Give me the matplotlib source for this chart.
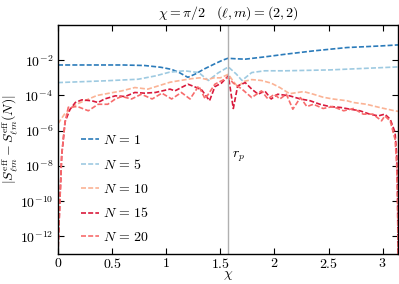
import numpy as np
import matplotlib
matplotlib.use("Agg")
import matplotlib.pyplot as plt

plt.rcParams['font.family'] = 'serif'
plt.rcParams['font.serif'] = ['cmr10', 'DejaVu Serif']
plt.rcParams['mathtext.fontset'] = 'cm'
plt.rcParams['axes.formatter.use_mathtext'] = True
plt.rcParams['font.size'] = 10

# curves: chi values and log10 of the difference
chi_1 = [0, 0.3, 0.6, 0.8, 0.95, 1.05, 1.12, 1.2, 1.27, 1.35, 1.45, 1.52, 1.57,
         1.65, 1.73, 1.91, 2.1, 2.36, 2.67, 2.98, 3.1416]
log_1 = [-2.27, -2.27, -2.27, -2.3, -2.4, -2.52, -2.7, -2.97, -2.78, -2.5, -2.2,
         -2.0, -1.89, -1.92, -1.94, -1.81, -1.66, -1.47, -1.28, -1.19, -1.13]

chi_5 = [0, 0.43, 0.74, 0.9, 1.03, 1.17, 1.3, 1.39, 1.48, 1.574, 1.65, 1.70,
         1.79, 1.91, 2.1, 2.51, 3.1416]
log_5 = [-3.27, -3.17, -3.08, -2.89, -2.68, -2.6, -2.7, -3.15, -2.72, -2.38,
         -2.8, -3.15, -2.7, -2.6, -2.6, -2.55, -2.38]

chi_10 = [0, 0.06, 0.17, 0.36, 0.59, 0.71, 0.83, 1.035, 1.11, 1.23, 1.31, 1.38,
          1.44, 1.5, 1.574, 1.62, 1.66, 1.72, 1.79, 1.88, 1.97, 2.05, 2.14,
          2.27, 2.36, 2.45, 2.54, 2.67, 2.73, 2.85, 2.97, 3.11, 3.1416]
log_10 = [-5.6, -5.06, -4.5, -4.0, -3.74, -3.55, -3.64, -3.25, -3.17, -3.05,
          -3.0, -3.1, -3.0, -3.0, -2.8, -3.2, -3.5, -3.2, -3.1, -3.15, -3.3,
          -3.55, -3.9, -3.78, -3.93, -4.1, -4.2, -4.3, -4.4, -4.5, -4.68,
          -4.87, -4.9]

chi_15 = [0, 0.003, 0.018, 0.034, 0.065, 0.11, 0.16, 0.22, 0.31, 0.37, 0.43,
          0.53, 0.62, 0.71, 0.80, 0.9, 1.035, 1.08, 1.14, 1.2, 1.26, 1.33, 1.40,
          1.45, 1.51, 1.574, 1.62, 1.66, 1.73, 1.79, 1.85, 1.91, 1.97, 2.03,
          2.14, 2.24, 2.33, 2.42, 2.51, 2.61, 2.7, 2.79, 2.88, 2.96, 3.02, 3.07,
          3.115, 3.13, 3.1375, 3.1405, 3.1416]
log_15 = [-13, -12.3, -9.9, -7.4, -5.5, -4.8, -4.4, -4.25, -4.3, -4.4, -4.2,
          -4.02, -4.06, -3.83, -3.87, -3.83, -3.64, -3.74, -3.55, -3.36, -3.5,
          -3.7, -4.3, -3.5, -3.3, -2.89, -4.74, -3.46, -3.27, -3.64, -3.93,
          -3.74, -4.2, -3.93, -4.02, -4.2, -4.3, -4.5, -4.63, -4.68, -4.78,
          -4.87, -5.06, -5.16, -5.06, -5.35, -6.1, -7.4, -9.3, -11.5, -13]

chi_20 = [0, 0.003, 0.018, 0.034, 0.065, 0.095, 0.18, 0.28, 0.37, 0.46, 0.53,
          0.59, 0.68, 0.77, 0.87, 0.96, 1.05, 1.14, 1.22, 1.30, 1.36, 1.45,
          1.51, 1.574, 1.62, 1.70, 1.79, 1.88, 1.94, 2.0, 2.05, 2.11, 2.17,
          2.24, 2.30, 2.36, 2.45, 2.54, 2.64, 2.73, 2.82, 2.91, 2.99, 3.02,
          3.07, 3.115, 3.13, 3.139, 3.1416]
log_20 = [-13, -12.3, -9.9, -7.4, -5.5, -4.67, -4.63, -4.87, -4.5, -4.5, -4.2,
          -4.06, -4.2, -3.93, -4.2, -3.87, -4.2, -3.83, -4.2, -3.46, -4.2,
          -3.36, -3.17, -2.98, -3.3, -3.64, -4.12, -3.74, -4.2, -3.93, -4.2,
          -3.93, -4.78, -4.12, -4.63, -4.5, -4.74, -4.63, -4.87, -4.74, -5.06,
          -5.06, -5.44, -5.16, -5.45, -6.5, -8.0, -10.5, -13]

labels = [r'$N \,=\, 1$', r'$N \,=\, 5$', r'$N \,=\, 10$', r'$N \,=\, 15$',
          r'$N \,=\, 20$']
colors = ['#2b7bba', '#9ecae1', '#fbb395', '#d91a3c', '#f76c6c']
series = [(chi_1, log_1), (chi_5, log_5), (chi_10, log_10),
          (chi_15, log_15), (chi_20, log_20)]

fig = plt.figure(figsize=(3.99, 2.84), dpi=100)
ax = fig.add_axes([0.1454, 0.1056, 0.852, 0.8064])

for (x, lv), lab, c in zip(series, labels, colors):
    ax.plot(x, 10.0 ** np.array(lv), ls=(0, (3, 1.3)), lw=1.2, color=c, label=lab)

ax.axvline(np.pi / 2, color='#b0b0b0', lw=1.0)
ax.text(1.61, 10 ** -7.43, r'$r_p$', fontsize=10, va='center')

ax.set_yscale('log')
ax.set_xlim(0, np.pi)
ax.set_ylim(1e-13, 1e0)
ax.set_yticks([1e-12, 1e-10, 1e-8, 1e-6, 1e-4, 1e-2])
ax.minorticks_off()
ax.set_xticks([0, 0.5, 1, 1.5, 2, 2.5, 3])
ax.set_xticklabels(['$0$', '$0.5$', '$1$', '$1.5$', '$2$', '$2.5$', '$3$'])
ax.tick_params(direction='in', top=True, right=True, length=4, width=0.8)
ax.tick_params(axis='x', pad=2)
for s in ax.spines.values():
    s.set_linewidth(1.0)

ax.set_xlabel(r'$\chi$', labelpad=-1)
ax.set_ylabel(r'$|S^{\rm eff}_{\ell m} - S^{\rm eff}_{\ell m}(N)|$', labelpad=0)
ax.set_title(r'$\chi = \pi/2 \quad (\ell, m) = (2,2)$', fontsize=10, pad=6)

ax.legend(loc='lower left', bbox_to_anchor=(0.03, -0.012), frameon=False,
          handlelength=1.3, handletextpad=0.3, labelspacing=0.78)

fig.savefig('out.png', dpi=100)
